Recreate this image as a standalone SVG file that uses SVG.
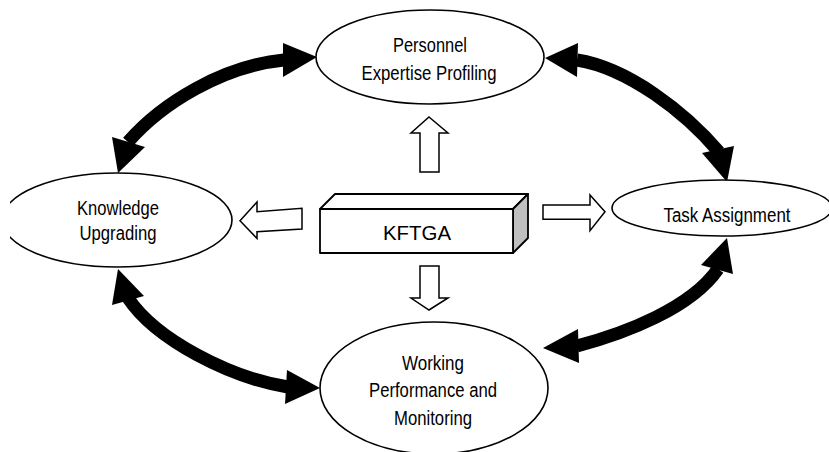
<svg xmlns="http://www.w3.org/2000/svg" width="829" height="452" viewBox="0 0 829 452">
  <style>
    .node { fill: #ffffff; stroke: #000000; stroke-width: 1.6; }
    .label { font-family: "Liberation Sans", Arial, sans-serif; font-size: 20px; fill: #000000; text-anchor: middle; }
    .flow { fill: none; stroke: #000000; stroke-width: 13; }
    .head { fill: #000000; stroke: none; }
    .hollow { fill: #ffffff; stroke: #000000; stroke-width: 1.5; stroke-linejoin: miter; }
    .box { stroke: #000000; stroke-width: 1.8; stroke-linejoin: round; }
  </style>
  <defs>
    <clipPath id="leftCut">
      <rect x="10" y="0" width="819" height="452"/>
    </clipPath>
  </defs>
  <rect width="829" height="452" fill="#ffffff"/>

  <!-- curved two-way links between the outer nodes -->
  <g id="connectors">
    <!-- Knowledge Upgrading <-> Personnel Expertise Profiling -->
    <path class="flow" d="M128,142 C162,103 223,66 284,60"/>
    <polygon class="head" points="317,57 283,43 283,77"/>
    <polygon class="head" points="118,173 112,137 145,147"/>

    <!-- Personnel Expertise Profiling <-> Task Assignment -->
    <path class="flow" d="M577,60 C628,68 685,112 719,152"/>
    <polygon class="head" points="545,58 578,43 577,77"/>
    <polygon class="head" points="727,182 702,153 734,146"/>

    <!-- Knowledge Upgrading <-> Working Performance and Monitoring -->
    <path class="flow" d="M128,298 C156,340 231,378 288,387"/>
    <polygon class="head" points="118,269 112,305 144,296"/>
    <polygon class="head" points="320,388 287,370 285,404"/>

    <!-- Working Performance and Monitoring <-> Task Assignment -->
    <path class="flow" d="M577,346 C626,333 691,308 718,269"/>
    <polygon class="head" points="543,348 578,329 579,363"/>
    <polygon class="head" points="727,238 701,265 733,274"/>

    <!-- hollow block arrows from the central box -->
    <polygon class="hollow" points="429,117 448,133 439,133 439,172 420,172 420,133 411,133"/>
    <polygon class="hollow" points="240,220.7 257,202 257,211.7 302,208.3 302,229 257,231.7 257,238.5"/>
    <polygon class="hollow" points="605,211.7 590,195 590,205 543,205 543,219.3 590,219.3 590,230.7"/>
    <polygon class="hollow" points="429,310 448,298 439,298 439,266 420,266 420,298 411,298"/>
  </g>

  <g id="kftga">
    <polygon class="box" fill="#ffffff" points="320,209 335,194 528,194 513,209"/>
    <polygon class="box" fill="#c0c0c0" points="513,209 528,194 528,238 513,253"/>
    <rect class="box" fill="#ffffff" x="320" y="209" width="193" height="44"/>
    <text class="label" x="417" y="240" font-size="24" textLength="68" lengthAdjust="spacingAndGlyphs">KFTGA</text>
  </g>

  <g id="personnel-expertise-profiling">
    <ellipse class="node" cx="430" cy="57" rx="114" ry="47"/>
    <text class="label" x="430" y="52" textLength="74" lengthAdjust="spacingAndGlyphs">Personnel</text>
    <text class="label" x="429" y="80" textLength="135" lengthAdjust="spacingAndGlyphs">Expertise Profiling</text>
  </g>

  <g id="knowledge-upgrading">
    <ellipse class="node" cx="117" cy="220" rx="115" ry="47" clip-path="url(#leftCut)"/>
    <text class="label" x="118" y="215" textLength="82" lengthAdjust="spacingAndGlyphs">Knowledge</text>
    <text class="label" x="118" y="240" textLength="77" lengthAdjust="spacingAndGlyphs">Upgrading</text>
  </g>

  <g id="task-assignment">
    <ellipse class="node" cx="722" cy="208" rx="110" ry="28"/>
    <text class="label" x="727" y="222" textLength="127" lengthAdjust="spacingAndGlyphs">Task Assignment</text>
  </g>

  <g id="working-performance-monitoring">
    <ellipse class="node" cx="434" cy="388" rx="114" ry="66"/>
    <text class="label" x="433" y="370" textLength="62" lengthAdjust="spacingAndGlyphs">Working</text>
    <text class="label" x="433" y="397" textLength="128" lengthAdjust="spacingAndGlyphs">Performance and</text>
    <text class="label" x="433" y="425" textLength="78" lengthAdjust="spacingAndGlyphs">Monitoring</text>
  </g>
</svg>
